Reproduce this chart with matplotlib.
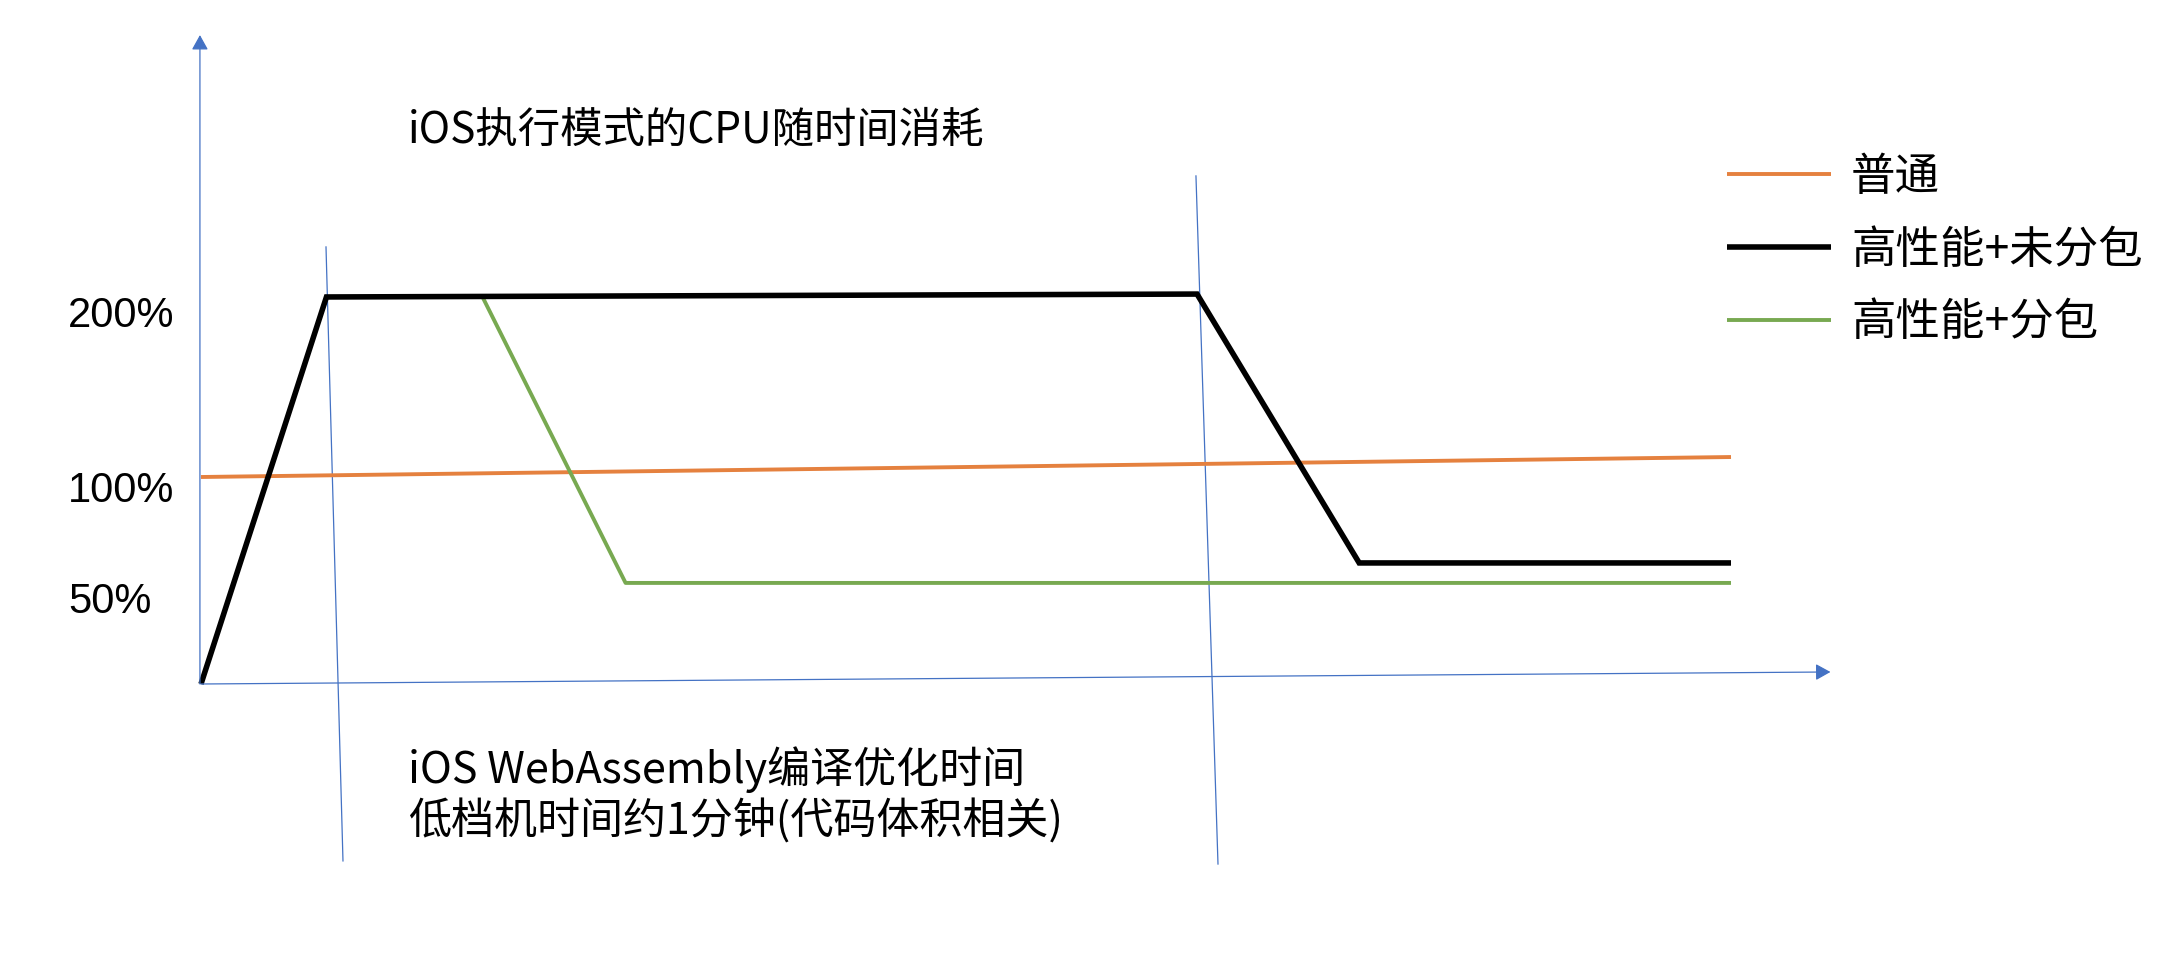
import matplotlib
matplotlib.use('Agg')
import matplotlib.pyplot as plt

plt.rcParams['font.family'] = ['Noto Sans CJK SC', 'DejaVu Sans']

# ---------------- data (time in arbitrary units, CPU in %) ----------------
title = 'iOS执行模式的CPU随时间消耗'
note_lines = ['iOS WebAssembly编译优化时间', '低档机时间约1分钟(代码体积相关)']
series_names = ['普通', '高性能+未分包', '高性能+分包']

normal_t = [0, 100]
normal_cpu = [106.7, 117.0]

hp_unsplit_t = [0, 8.2, 65.1, 75.7, 100]
hp_unsplit_cpu = [0, 199.5, 201.0, 62.4, 62.4]

hp_split_t = [18.4, 27.75, 100]
hp_split_cpu = [199.5, 52.1, 52.1]

ytick_labels = ['200%', '100%', '50%']
ytick_pos = [184.0, 93.8, 36.6]

# hand-drawn guide lines marking the compile phase
guide1_t = [8.17, 9.28]
guide1_cpu = [225.3, -91.2]
guide2_t = [65.03, 66.47]
guide2_cpu = [261.9, -92.8]

# hand-drawn axes
yaxis_t = [-0.07, -0.07]
yaxis_cpu = [0, 334.5]
xaxis_t = [0, 106.5]
xaxis_cpu = [0, 6.2]

# ---------------- layout ----------------
W, H = 2178, 960
X0_PX, Y0_PX = 201, 684
PX_PER_T = 15.3
PX_PER_PCT = 1.94

ORANGE = '#E5813F'
GREEN = '#78A951'
BLACK = '#000000'
BLUE = '#4472C4'


def fx(px):
    return px / W


def fy(py):
    return 1 - py / H


fig = plt.figure(figsize=(W / 100, H / 100), dpi=100)
ax = fig.add_axes([0, 0, 1, 1])
ax.set_xlim(-X0_PX / PX_PER_T, (W - X0_PX) / PX_PER_T)
ax.set_ylim(-(H - Y0_PX) / PX_PER_PCT, Y0_PX / PX_PER_PCT)
ax.axis('off')

# axes with arrows
arrow_kw = dict(arrowstyle='-|>,head_length=0.45,head_width=0.25', color=BLUE,
                lw=0.9, shrinkA=0, shrinkB=0, mutation_scale=20)
ax.annotate('', xy=(yaxis_t[1], yaxis_cpu[1]), xytext=(yaxis_t[0], yaxis_cpu[0]),
            arrowprops=arrow_kw)
ax.annotate('', xy=(xaxis_t[1], xaxis_cpu[1]), xytext=(xaxis_t[0], xaxis_cpu[0]),
            arrowprops=arrow_kw)

# guide lines
ax.plot(guide1_t, guide1_cpu, color=BLUE, lw=0.9)
ax.plot(guide2_t, guide2_cpu, color=BLUE, lw=0.9)

# series
l_norm, = ax.plot(normal_t, normal_cpu, color=ORANGE, lw=2.8, solid_capstyle='butt')
l_split, = ax.plot(hp_split_t, hp_split_cpu, color=GREEN, lw=2.8, solid_capstyle='butt')
l_unsplit, = ax.plot(hp_unsplit_t, hp_unsplit_cpu, color=BLACK, lw=4.0,
                     solid_capstyle='butt', solid_joinstyle='miter')

# y labels
label_x = (68 - X0_PX) / PX_PER_T
for lab, pos in zip(ytick_labels, ytick_pos):
    ax.text(label_x, pos, lab, ha='left', va='baseline', fontsize=30,
            family=['Liberation Sans', 'DejaVu Sans'])

# title and note
fig.text(fx(408), fy(143), title, ha='left', va='baseline', fontsize=30.5)
fig.text(fx(408), fy(783), note_lines[0], ha='left', va='baseline', fontsize=31)
fig.text(fx(408), fy(835), note_lines[1], ha='left', va='baseline', fontsize=31)

# legend
fs_leg = 32
ax.legend(handles=[l_norm, l_unsplit, l_split], labels=series_names,
          loc='upper left', bbox_to_anchor=(fx(1727), fy(154)),
          bbox_transform=fig.transFigure, frameon=False, fontsize=fs_leg,
          handlelength=104 / (fs_leg * 100 / 72), handletextpad=0.45,
          labelspacing=0.6, borderpad=0, borderaxespad=0)

fig.savefig('out.png', dpi=100, facecolor='white')
